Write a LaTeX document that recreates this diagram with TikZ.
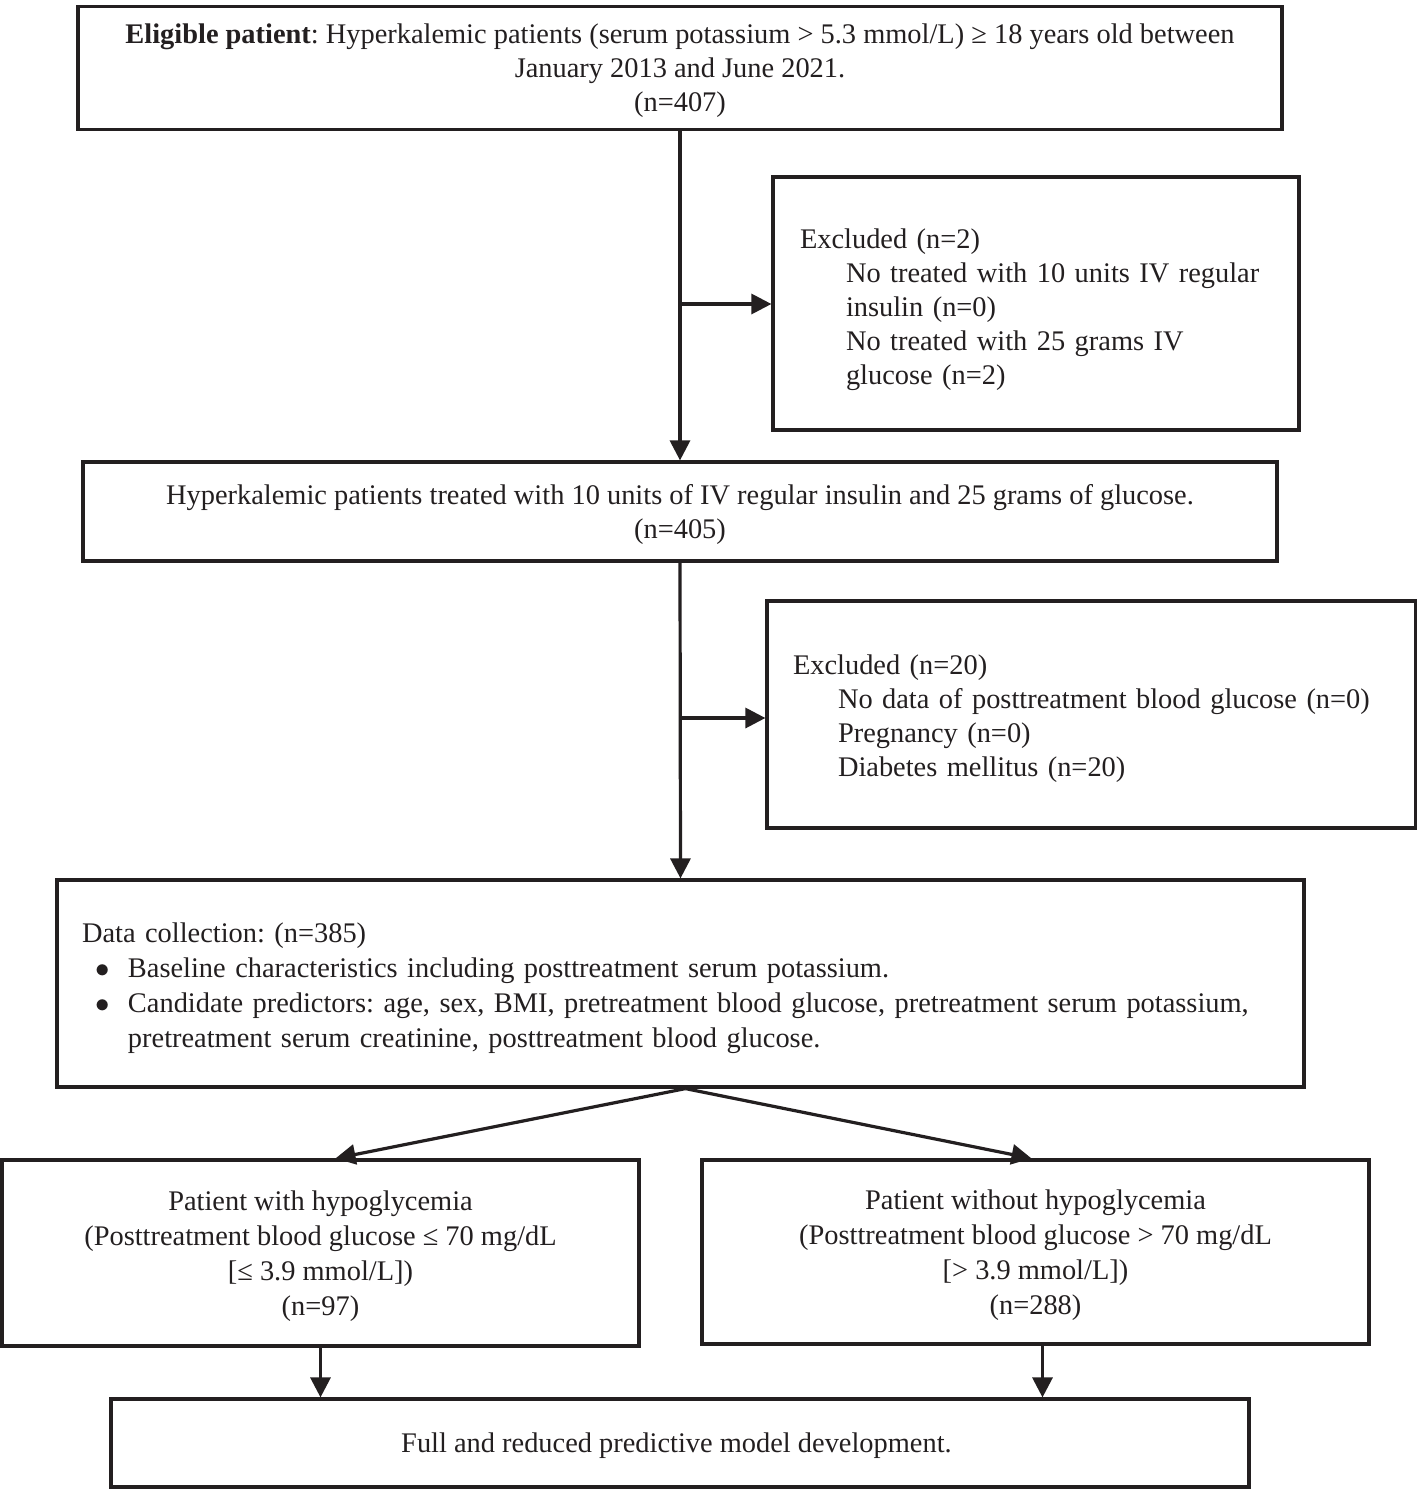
\documentclass[tikz,border=0pt]{standalone}
\usepackage{fontspec}
\setmainfont{Liberation Serif}
\usepackage{tikz}
\usetikzlibrary{
  positioning,
  arrows.meta,
  calc
}
\definecolor{lineink}{RGB}{35,31,32}
\definecolor{textink}{RGB}{35,31,32}
\newcommand{\flowfont}{\fontsize{14.2}{17}\selectfont\frenchspacing}
\newcommand{\widefont}{\fontsize{14.2}{17.5}\selectfont\frenchspacing}
\newcommand{\bulletrow}[1]{\hspace*{6.5pt}\makebox[16.5pt][l]{$\bullet$}#1}
\newcommand{\sinktext}[1]{\par\kern-#1}
\tikzset{
  flowbox/.style={
    draw=lineink, line width=1.6pt, fill=white,
    font=\flowfont, text=textink, align=center, inner sep=0pt,
    text depth=-1.5pt
  },
  exclbox/.style={
    flowbox, align=left, inner xsep=13.5pt, text depth={}
  },
  flowarrow/.style={
    -{Triangle[length=10pt,width=10pt]}, line width=1.6pt, draw=lineink
  }
}

\begin{document}
\begin{tikzpicture}[x=0.5pt, y=-0.5pt]

    \useasboundingbox (0,0) rectangle (1417,1489);

    \node[flowbox, minimum width=602pt, minimum height=61.5pt] (eligible) at (680,68) {
      \textbf{Eligible patient}: Hyperkalemic patients (serum potassium > 5.3 mmol/L) ≥ 18 years old between\\
      January 2013 and June 2021.\\
      (n=407)
    };

    \node[exclbox, minimum width=263pt, minimum height=126.5pt, text width=236pt] (excl1) at (1036,303.5) {
      Excluded (n=2)\\
      \hspace*{23pt}No treated with 10 units IV regular\\
      \hspace*{23pt}insulin (n=0)\\
      \hspace*{23pt}No treated with 25 grams IV\\
      \hspace*{23pt}glucose (n=2)\sinktext{6pt}
    };

    \node[flowbox, minimum width=597pt, minimum height=49.5pt] (treated) at (680,511.5) {
      Hyperkalemic patients treated with 10 units of IV regular insulin and 25 grams of glucose.\\
      (n=405)
    };

    \node[exclbox, minimum width=324.5pt, minimum height=113.5pt, inner xsep=13pt, text width=298.5pt] (excl2) at (1091.5,714.5) {
      Excluded (n=20)\\
      \hspace*{22.5pt}No data of posttreatment blood glucose (n=0)\\
      \hspace*{22.5pt}Pregnancy (n=0)\\
      \hspace*{22.5pt}Diabetes mellitus (n=20)\sinktext{4.5pt}
    };

    \node[exclbox, font=\widefont, minimum width=623.5pt, minimum height=103.5pt, inner xsep=12.5pt, text width=598.5pt] (collect) at (680.5,983.5) {
      Data collection: (n=385)\\
      \bulletrow{Baseline characteristics including posttreatment serum potassium.}\\
      \bulletrow{Candidate predictors: age, sex, BMI, pretreatment blood glucose, pretreatment serum potassium,}\\
      \hspace*{23pt}pretreatment serum creatinine, posttreatment blood glucose.\sinktext{4.5pt}
    };

    \node[flowbox, font=\widefont, minimum width=318.5pt, minimum height=93pt] (hypo) at (320.5,1253) {
      Patient with hypoglycemia\\
      (Posttreatment blood glucose ≤ 70 mg/dL\\
      {[}≤ 3.9 mmol/L])\\
      (n=97)
    };

    \node[flowbox, font=\widefont, minimum width=333.5pt, minimum height=92pt] (nohypo) at (1035.5,1252) {
      Patient without hypoglycemia\\
      (Posttreatment blood glucose > 70 mg/dL\\
      {[}> 3.9 mmol/L])\\
      (n=288)
    };

    \node[flowbox, minimum width=569pt, minimum height=44pt] (model) at (680,1443) {
      Full and reduced predictive model development.
    };

    % main flow
    \draw[flowarrow] (eligible.south) -- (treated.north);
    \draw[flowarrow] (treated.south) -- (collect.north);

    % exclusions
    \coordinate (split1) at (679,304);
    \coordinate (split2) at (680,718);
    \draw[flowarrow] (split1) -- (split1 -| excl1.west);
    \draw[flowarrow] (split2) -- (split2 -| excl2.west);

    % groups
    \coordinate (fork) at ($(collect.south)+(5,0)$);
    \draw[flowarrow] (fork) -- ($(hypo.north)+(15,0)$);
    \draw[flowarrow] (fork) -- ($(nohypo.north)+(-4,0)$);

    % model
    \coordinate (nohypo out) at ($(nohypo.south)+(7,0)$);
    \draw[flowarrow] (hypo.south) -- (hypo.south |- model.north);
    \draw[flowarrow] (nohypo out) -- (nohypo out |- model.north);

\end{tikzpicture}
\end{document}
